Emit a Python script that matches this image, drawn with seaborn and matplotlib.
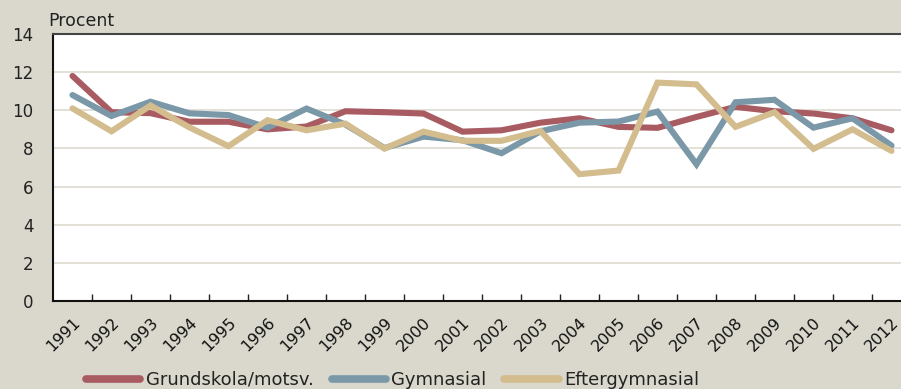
import matplotlib
matplotlib.use("Agg")
import matplotlib.pyplot as plt
from matplotlib.ticker import FixedLocator
import seaborn as sns
import pandas as pd

years = [str(y) for y in range(1991, 2013)]
grundskola = [11.8, 9.9, 9.85, 9.4, 9.4, 9.0, 9.15, 9.95, 9.9, 9.83, 8.88,
              8.95, 9.35, 9.58, 9.13, 9.08, 9.65, 10.18, 9.95, 9.83, 9.58, 8.95]
gymnasial = [10.8, 9.7, 10.45, 9.84, 9.75, 9.09, 10.09, 9.25, 8.02, 8.62, 8.43,
             7.75, 8.9, 9.35, 9.41, 9.93, 7.17, 10.42, 10.55, 9.09, 9.58, 8.15]
eftergymnasial = [10.1, 8.9, 10.25, 9.1, 8.12, 9.48, 8.95, 9.3, 7.99, 8.88, 8.4,
                  8.4, 8.92, 6.65, 6.84, 11.45, 11.36, 9.13, 9.9, 7.98, 9.0, 7.87]
series_names = ["Grundskola/motsv.", "Gymnasial", "Eftergymnasial"]
y_ticks = [0, 2, 4, 6, 8, 10, 12, 14]

df = pd.DataFrame({"År": years * 3,
                   "Procent": grundskola + gymnasial + eftergymnasial,
                   "Utbildning": [n for n in series_names for _ in years]})

bg = "#dad8cc"
palette = {"Grundskola/motsv.": "#a95b62",
           "Gymnasial": "#7a98a8",
           "Eftergymnasial": "#d3bc8d"}

sns.set_theme(style="white")
plt.rcParams["font.family"] = ["DejaVu Sans"]

fig = plt.figure(figsize=(9.01, 3.89), dpi=100, facecolor=bg)
W, H = 901, 389
ax = fig.add_axes([53 / W, 1 - 301 / H, 858 / W, 267 / H])
ax.set_facecolor("white")

sns.lineplot(data=df, x="År", y="Procent", hue="Utbildning", palette=palette,
             linewidth=4.4, ax=ax, legend=False, sort=False)
for ln in ax.lines:
    ln.set_solid_capstyle("round")
    ln.set_solid_joinstyle("miter")

ax.set_xlim(-0.5, len(years) - 0.5)
ax.set_ylim(0, 14)
ax.set_yticks(y_ticks)
ax.set_yticklabels([str(t) for t in y_ticks], fontsize=12, color="#222222")
ax.yaxis.grid(True, color="#dedbd0", linewidth=1.2)
ax.set_axisbelow(True)
ax.tick_params(axis="y", length=0, pad=14)

ax.set_xticks(range(len(years)))
ax.set_xticklabels(years, rotation=45, ha="right", rotation_mode="anchor",
                   fontsize=11.5, color="#111111")
ax.tick_params(axis="x", which="major", length=0, pad=10)
ax.xaxis.set_minor_locator(FixedLocator([i + 0.5 for i in range(len(years) - 1)]))
ax.tick_params(axis="x", which="minor", direction="in", length=5, width=1,
               color="#222222", bottom=True)

ax.set_xlabel("")
ax.set_ylabel("")
for side in ["left", "bottom"]:
    ax.spines[side].set_color("#111111")
    ax.spines[side].set_linewidth(1.5)
ax.spines["top"].set_color("#444444")
ax.spines["top"].set_linewidth(1.5)
ax.spines["right"].set_visible(False)

fig.text(48 / W, 1 - 26 / H, "Procent", fontsize=12.5, color="#222222",
         ha="left", va="baseline")

handles = [plt.Line2D([], [], color=palette[n], linewidth=5.5,
                      solid_capstyle="round") for n in series_names]
fig.legend(handles, series_names, loc="center left",
           bbox_to_anchor=(86 / W, 1 - 380 / H), ncol=3, frameon=False,
           fontsize=13, handlelength=3.0, handletextpad=0.3,
           columnspacing=1.0, borderpad=0, borderaxespad=0,
           labelcolor="#222222")

fig.savefig("out.png", dpi=100, facecolor=bg)
